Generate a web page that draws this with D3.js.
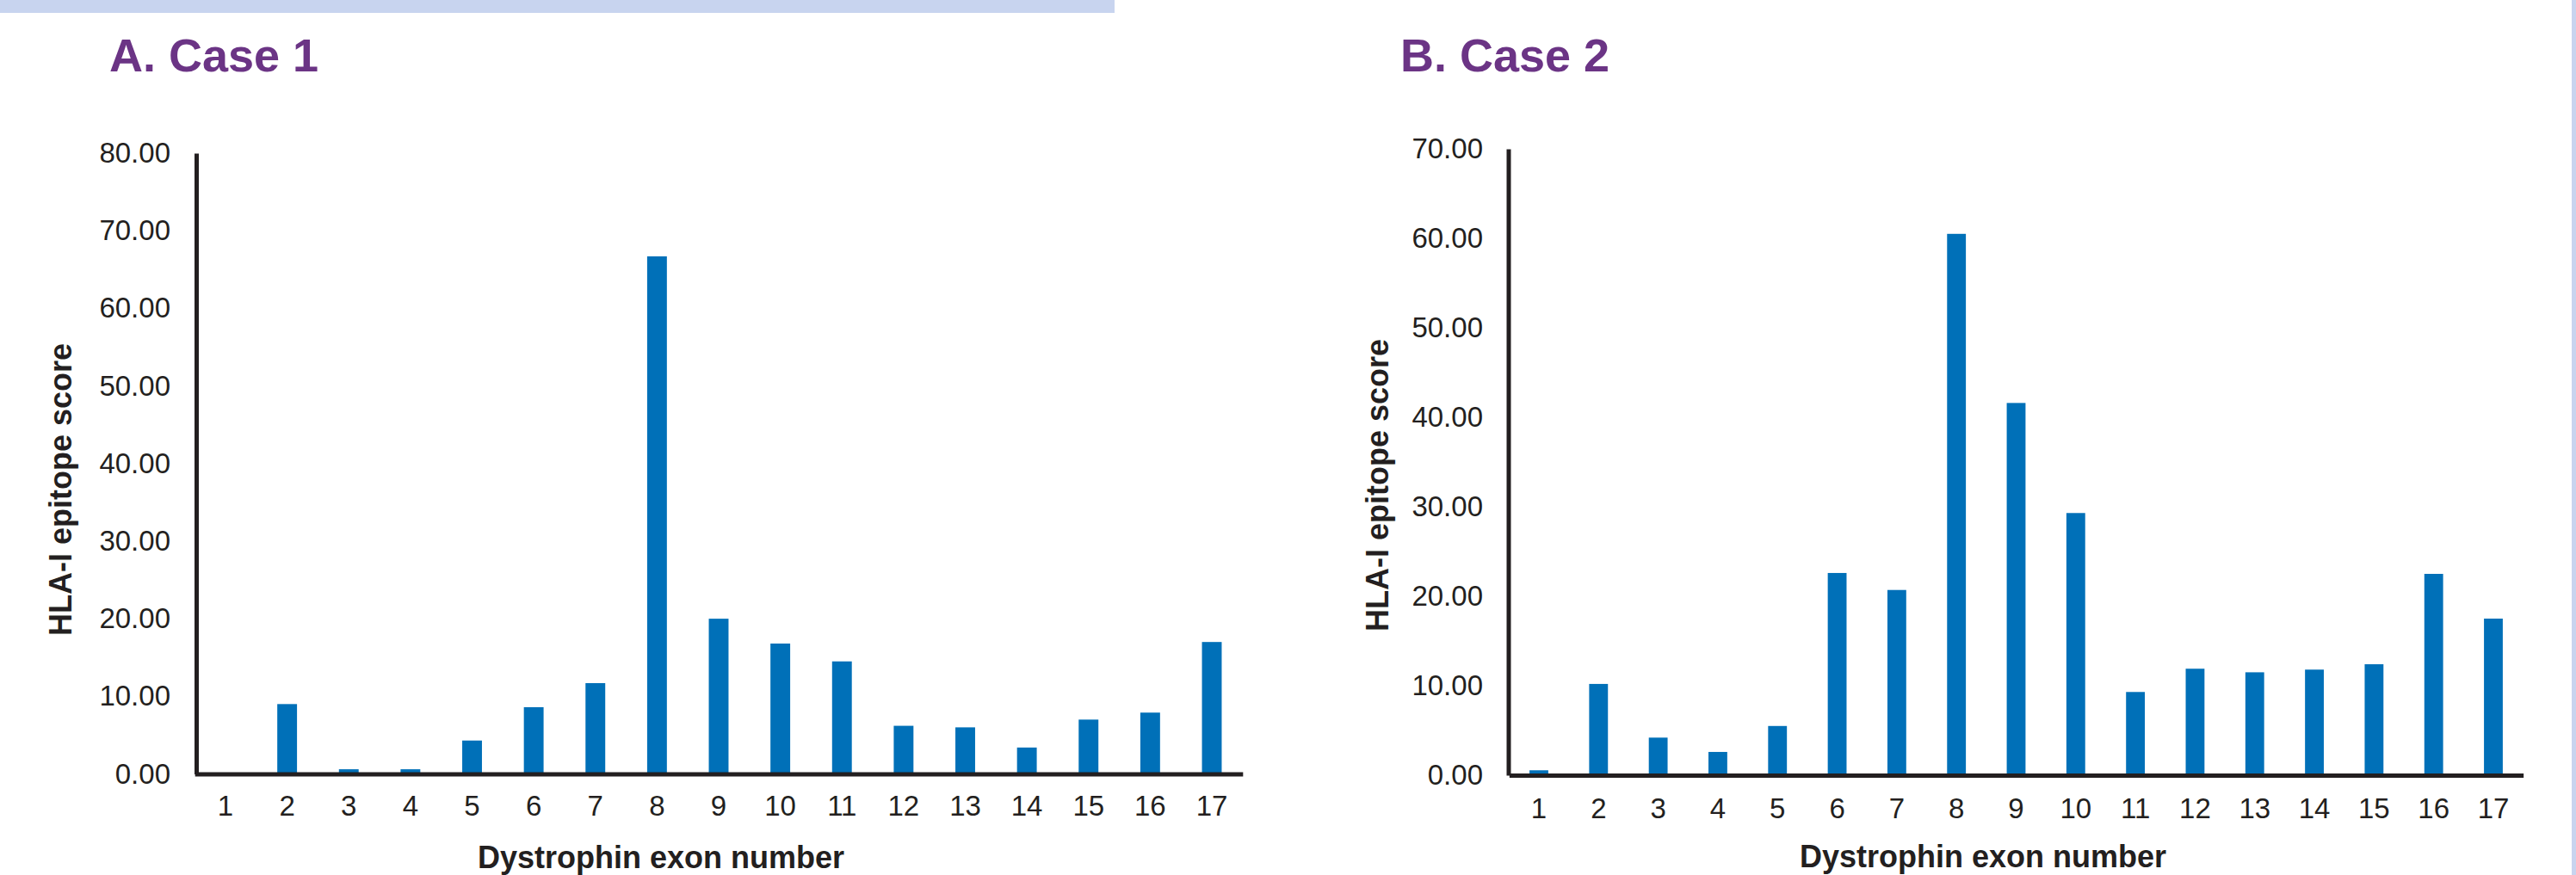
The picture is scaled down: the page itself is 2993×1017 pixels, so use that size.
<!DOCTYPE html>
<html>
<head>
<meta charset="utf-8">
<script src="https://cdn.jsdelivr.net/npm/d3@7"></script>
<style>
  html, body { margin: 0; padding: 0; background: #ffffff; }
  svg { display: block; }
  text { font-family: "Liberation Sans", Arial, Helvetica, sans-serif; }
</style>
</head>
<body>
<script>
// ---------- data ----------
const exons = ["1","2","3","4","5","6","7","8","9","10","11","12","13","14","15","16","17"];
const case1Scores = [0, 9.0, 0.6, 0.6, 4.3, 8.6, 11.7, 66.7, 20.0, 16.8, 14.5, 6.2, 6.0, 3.4, 7.0, 7.9, 17.0];
const case2Scores = [0.55, 10.2, 4.2, 2.6, 5.5, 22.6, 20.7, 60.5, 41.6, 29.3, 9.3, 11.9, 11.5, 11.8, 12.4, 22.5, 17.5];
const case1Ticks = [0, 10, 20, 30, 40, 50, 60, 70, 80];
const case2Ticks = [0, 10, 20, 30, 40, 50, 60, 70];
const panelTitles = ["A. Case 1", "B. Case 2"];
const yTitle = "HLA-I epitope score";
const xTitle = "Dystrophin exon number";

// ---------- layout ----------
const W = 2993, H = 1017;
const barColor = "#0070b8";
const inkColor = "#231f20";
const titleColor = "#6b3485";
const bandColor = "#c8d4ef";

const svg = d3.select("body").append("svg")
  .attr("width", W).attr("height", H)
  .attr("viewBox", `0 0 ${W} ${H}`);

// decorative page bands
svg.append("rect").attr("x", 0).attr("y", 0).attr("width", 1295).attr("height", 15).attr("fill", bandColor);
svg.append("rect").attr("x", 2988).attr("y", 0).attr("width", 5).attr("height", H).attr("fill", bandColor);

const panels = [
  {
    title: panelTitles[0], data: case1Scores, ticks: case1Ticks, yMax: 80,
    titleX: 127, titleY: 83,
    axisX: 228, yTop: 178, yBottom: 899.5,
    firstCenter: 262, lastCenter: 1408, pad: 0.68,
    yPad: 30, xPad: 25,
    yTitleX: 83, yTitleY: 569,
    xTitleX: 768, xTitleY: 1009
  },
  {
    title: panelTitles[1], data: case2Scores, ticks: case2Ticks, yMax: 70,
    titleX: 1627, titleY: 83,
    axisX: 1752.5, yTop: 173, yBottom: 901,
    firstCenter: 1788, lastCenter: 2897, pad: 0.685,
    yPad: 29.5, xPad: 27,
    yTitleX: 1613, yTitleY: 564,
    xTitleX: 2304, xTitleY: 1008
  }
];

panels.forEach(p => {
  const step = (p.lastCenter - p.firstCenter) / (exons.length - 1);
  const x = d3.scaleBand()
    .domain(exons)
    .range([p.firstCenter - step / 2, p.lastCenter + step / 2])
    .paddingInner(p.pad)
    .paddingOuter(p.pad / 2);
  const y = d3.scaleLinear().domain([0, p.yMax]).range([p.yBottom, p.yTop]);

  const g = svg.append("g");

  // bars
  g.selectAll("rect.bar")
    .data(p.data.map((v, i) => ({ exon: exons[i], v })))
    .join("rect")
    .attr("class", "bar")
    .attr("x", d => x(d.exon))
    .attr("width", x.bandwidth())
    .attr("y", d => y(d.v))
    .attr("height", d => y(0) - y(d.v))
    .attr("fill", barColor);

  // y axis
  const yAxis = g.append("g")
    .attr("transform", `translate(${p.axisX},0)`)
    .call(d3.axisLeft(y).tickValues(p.ticks).tickFormat(d3.format(".2f"))
      .tickSize(0).tickPadding(p.yPad));
  yAxis.select(".domain").attr("stroke", inkColor).attr("stroke-width", 5);
  yAxis.selectAll("text").attr("font-size", 33).attr("fill", inkColor)
    .style("font-family", '"Liberation Sans", Arial, sans-serif');

  // x axis
  const xAxis = g.append("g")
    .attr("transform", `translate(0,${p.yBottom})`)
    .call(d3.axisBottom(x).tickSize(0).tickPadding(p.xPad));
  xAxis.select(".domain").attr("stroke", inkColor).attr("stroke-width", 5);
  xAxis.selectAll("text").attr("font-size", 33).attr("fill", inkColor)
    .style("font-family", '"Liberation Sans", Arial, sans-serif');

  // panel title
  svg.append("text")
    .attr("x", p.titleX).attr("y", p.titleY)
    .attr("font-size", 54).attr("font-weight", "bold")
    .attr("fill", titleColor)
    .text(p.title);

  // y title
  svg.append("text")
    .attr("transform", `translate(${p.yTitleX},${p.yTitleY}) rotate(-90)`)
    .attr("text-anchor", "middle")
    .attr("font-size", 36).attr("font-weight", "bold")
    .attr("fill", inkColor)
    .text(yTitle);

  // x title
  svg.append("text")
    .attr("x", p.xTitleX).attr("y", p.xTitleY)
    .attr("text-anchor", "middle")
    .attr("font-size", 36).attr("font-weight", "bold")
    .attr("fill", inkColor)
    .text(xTitle);
});
</script>
</body>
</html>
